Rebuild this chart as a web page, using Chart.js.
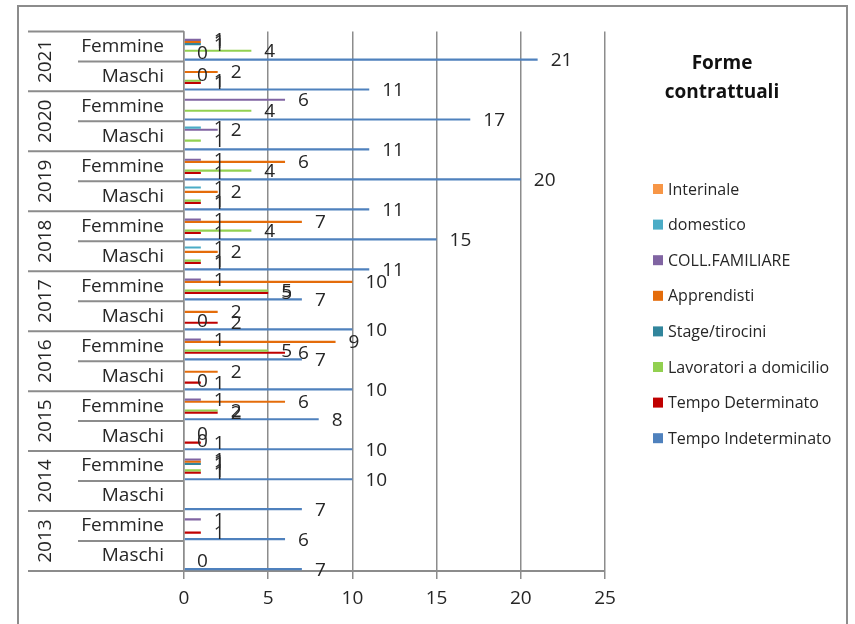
<!DOCTYPE html>
<html>
<head>
<meta charset="utf-8">
<script src="https://cdn.jsdelivr.net/npm/chart.js@4"></script>
<style>
  html, body { margin: 0; padding: 0; background: #fff; }
</style>
</head>
<body>
<canvas id="mycanvas" width="855" height="624"></canvas>
<script>
// righe dall'alto in basso: per ogni anno Femmine poi Maschi
var years = ['2021', '2020', '2019', '2018', '2017', '2016', '2015', '2014', '2013'];
var genders = ['Femmine', 'Maschi'];
var xTicks = [0, 5, 10, 15, 20, 25];

var tempoIndeterminato = [21, 11, 17, 11, 20, 11, 15, 11, 7, 10, 7, 10, 8, 10, 10, 7, 6, 7];
var tempoDeterminato   = [0, 1, null, null, 1, 1, 1, 1, 5, 2, 6, 1, 2, 1, 1, null, 1, null];
var lavoratoriDomicilio = [4, 1, 4, 1, 4, 1, 4, 1, 5, 0, 5, 0, 2, 0, 1, null, null, 0];
var stageTirocini      = [1, 0, null, null, null, null, null, null, null, null, null, null, null, 0, 1, null, null, null];
var apprendisti        = [1, 2, null, null, 6, 2, 7, 2, 10, 2, 9, 2, 6, null, 1, null, null, null];
var collFamiliare      = [1, null, 6, 2, 1, null, 1, null, 1, null, 1, null, 1, null, 1, null, 1, null];
var domestico          = [null, null, null, 1, null, 1, null, 1, null, null, null, null, null, null, null, null, null, null];
var interinale         = [null, null, null, null, null, null, null, null, null, null, null, null, null, null, null, null, null, null];

var rowLabels = [];
for (var i = 0; i < years.length; i++) {
  for (var j = 0; j < genders.length; j++) {
    rowLabels.push(genders[j]);
  }
}

var FONT = "'Open Sans'";
var GRID = '#8c8c8c';
var TEXT = '#262626';

function serie(label, color, values) {
  return { label: label, data: values, backgroundColor: color, borderWidth: 0 };
}
// colonne vuote del foglio: occupano solo il posto nel gruppo
function vuota() {
  return { label: '', data: [], spacer: true, backgroundColor: 'rgba(0,0,0,0)' };
}

var excelStyle = {
  id: 'excelStyle',
  beforeDraw: function(chart) {
    var ctx = chart.ctx;
    ctx.save();
    ctx.fillStyle = '#fff';
    ctx.fillRect(0, 0, chart.width, chart.height);
    ctx.restore();
  },
  afterDatasetsDraw: function(chart) {
    var ctx = chart.ctx;
    ctx.save();
    ctx.font = '19px ' + FONT;
    ctx.fillStyle = TEXT;
    ctx.textAlign = 'left';
    ctx.textBaseline = 'middle';
    chart.data.datasets.forEach(function(ds, di) {
      if (ds.spacer) return;
      var meta = chart.getDatasetMeta(di);
      meta.data.forEach(function(bar, k) {
        var v = ds.data[k];
        if (v === null || v === undefined) return;
        ctx.fillText(String(v), bar.x + 13, bar.y + 1);
      });
    });
    ctx.restore();
  },
  afterDraw: function(chart) {
    var ctx = chart.ctx;
    var area = chart.chartArea;
    var ys = chart.scales.y;
    var step = ys.getPixelForValue(1) - ys.getPixelForValue(0);

    ctx.save();
    // cornice esterna
    ctx.strokeStyle = GRID;
    ctx.lineWidth = 2;
    ctx.strokeRect(18, 6, 829, 700);

    // caselle delle categorie
    ctx.beginPath();
    for (var i = 0; i <= years.length; i++) {
      var yy = ys.getPixelForValue(i * 2) - step / 2;
      ctx.moveTo(28, yy);
      ctx.lineTo(area.left, yy);
    }
    for (var i = 0; i < years.length; i++) {
      var mid = ys.getPixelForValue(i * 2) + step / 2;
      ctx.moveTo(78, mid);
      ctx.lineTo(area.left, mid);
    }
    ctx.stroke();

    ctx.font = '19px ' + FONT;
    ctx.fillStyle = TEXT;
    ctx.textAlign = 'center';
    ctx.textBaseline = 'middle';
    for (var i = 0; i < years.length; i++) {
      var cy = ys.getPixelForValue(i * 2) + step / 2;
      ctx.save();
      ctx.translate(45, cy);
      ctx.rotate(-Math.PI / 2);
      ctx.fillText(years[i], 0, 1);
      ctx.restore();
    }

    // legenda
    ctx.font = 'bold 19px ' + FONT;
    ctx.fillStyle = '#111';
    ctx.fillText('Forme', 722, 64);
    ctx.fillText('contrattuali', 722, 93);

    ctx.font = '16px ' + FONT;
    ctx.textAlign = 'left';
    var n = 0;
    chart.data.datasets.forEach(function(ds) {
      if (ds.spacer) return;
      var ly = 189 + n * 35.6;
      ctx.fillStyle = ds.backgroundColor;
      ctx.fillRect(653, ly - 5, 10, 10);
      ctx.fillStyle = TEXT;
      ctx.fillText(ds.label, 668, ly + 1);
      n++;
    });
    ctx.restore();
  }
};

var ctx = document.getElementById('mycanvas').getContext('2d');
var chart = new Chart(ctx, {
  type: 'bar',
  data: {
    labels: rowLabels,
    datasets: [
      vuota(),
      serie('Interinale', '#F79646', interinale),
      serie('domestico', '#4BACC6', domestico),
      serie('COLL.FAMILIARE', '#8064A2', collFamiliare),
      serie('Apprendisti', '#E46C0A', apprendisti),
      serie('Stage/tirocini', '#31859C', stageTirocini),
      vuota(),
      vuota(),
      serie('Lavoratori a domicilio', '#92D050', lavoratoriDomicilio),
      serie('Tempo Determinato', '#C00000', tempoDeterminato),
      vuota(),
      vuota(),
      serie('Tempo Indeterminato', '#4F81BD', tempoIndeterminato)
    ]
  },
  options: {
    indexAxis: 'y',
    responsive: false,
    animation: false,
    datasets: { bar: { categoryPercentage: 0.95, barPercentage: 1.0 } },
    layout: { padding: { left: 0, top: 30, right: 250, bottom: 0 } },
    plugins: { legend: { display: false }, tooltip: { enabled: false } },
    scales: {
      x: {
        min: 0,
        max: 25,
        afterBuildTicks: function(s) {
          s.ticks = xTicks.map(function(v) { return { value: v }; });
        },
        ticks: { font: { family: FONT, size: 19 }, color: TEXT, padding: 8 },
        grid: { color: GRID, lineWidth: 1.5, tickLength: 8 },
        border: { color: GRID, width: 2 },
        afterFit: function(s) { s.height = 53; }
      },
      y: {
        ticks: { font: { family: FONT, size: 19 }, color: TEXT, padding: 20, autoSkip: false },
        grid: { display: false, drawTicks: false },
        border: { display: true, color: GRID, width: 1.5 },
        afterFit: function(s) { s.width = 184; }
      }
    }
  },
  plugins: [excelStyle]
});
</script>
</body>
</html>
